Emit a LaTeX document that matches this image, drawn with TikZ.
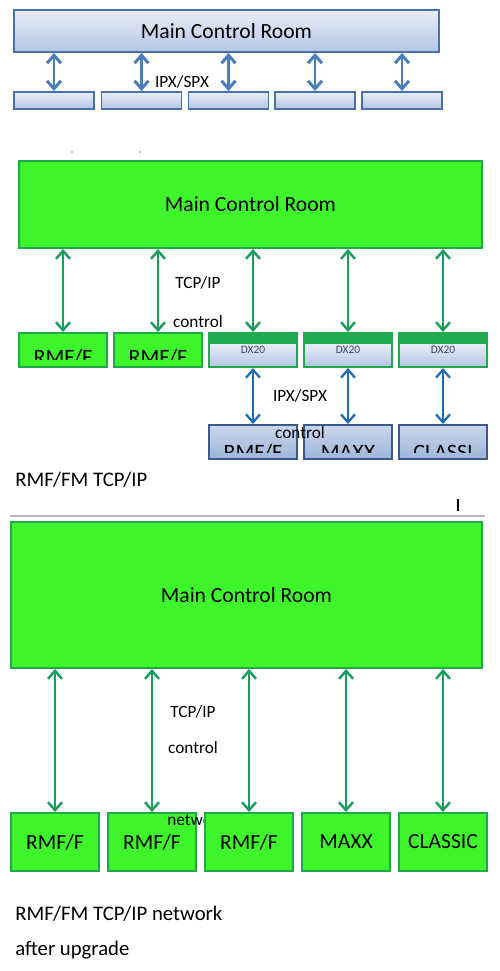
\documentclass[tikz,border=0pt]{standalone}
\usepackage{fontspec}
\setmainfont{Carlito}
\usepackage{tikz}
\usetikzlibrary{arrows.meta,positioning}
\definecolor{oldedge}{HTML}{4A70A8}
\definecolor{oldtop}{HTML}{E8EEF8}
\definecolor{oldbot}{HTML}{B3C6E5}
\definecolor{oldarrow}{HTML}{4A7EBB}
\definecolor{ipxarrow}{HTML}{1F6DBA}
\definecolor{newedge}{HTML}{22A84A}
\definecolor{newfill}{HTML}{3EF52B}
\definecolor{newarrow}{HTML}{1A9E5C}
\definecolor{dxstrip}{HTML}{1FAA52}
\definecolor{dxtext}{HTML}{34466A}
\definecolor{rule}{HTML}{B8B8B8}

\begin{document}
\begin{tikzpicture}[x=0.02cm,y=-0.02cm,
  mcr/.style={draw,line width=1.1pt,inner sep=0pt,font=\fontsize{12.3}{14}\selectfont},
  oldmcr/.style={mcr,draw=oldedge,top color=oldtop,bottom color=oldbot},
  newmcr/.style={mcr,draw=newedge,fill=newfill},
  ipxbox/.style={oldmcr,minimum width=1.6cm,minimum height=0.34cm},
  tcpbox/.style={newmcr,minimum width=1.76cm,minimum height=0.68cm},
  dxbox/.style={tcpbox,top color=white,bottom color=oldbot,text=dxtext,font=\fontsize{6.5}{7}\selectfont,
    path picture={\fill[dxstrip] (path picture bounding box.north west) rectangle ([yshift=-0.22cm]path picture bounding box.north east);}},
  legacy/.style={oldmcr,draw=oldedge!80!black,top color=oldbot!70,bottom color=oldbot!80!oldedge,minimum width=1.76cm,minimum height=0.68cm},
  unit/.style={newmcr,minimum width=1.76cm,minimum height=1.16cm},
  cutlabel/.style n args={3}{path picture={
    \clip (path picture bounding box.north west) rectangle ([yshift=#2]path picture bounding box.south east);
    \node[anchor=base,font=\fontsize{12.5}{14}\selectfont] at ([yshift=#3]path picture bounding box.south) {#1};}},
  note/.style={font=\fontsize{9.8}{11}\selectfont,inner sep=0pt},
  caption/.style={anchor=west,font=\fontsize{11.8}{14}\selectfont,inner sep=0pt},
  oldlink/.style={{Straight Barb[length=1.6mm,width=2.8mm]}-{Straight Barb[length=1.6mm,width=2.8mm]},draw=oldarrow,line width=1.7pt},
  ipxlink/.style={oldlink,draw=ipxarrow,line width=1.3pt},
  tcplink/.style={oldlink,draw=newarrow,line width=1.4pt}]
\useasboundingbox (0,0) rectangle (500,971);

% before: IPX/SPX only
\node[oldmcr,minimum width=8.5cm,minimum height=0.84cm] (mcrA) at (226.5,31) {Main Control Room};
\node[ipxbox] (ipx1) at (54,100.5) {};
\node[ipxbox] (ipx2) at (141.5,100.5) {};
\node[ipxbox] (ipx3) at (228.5,100.5) {};
\node[ipxbox] (ipx4) at (315,100.5) {};
\node[ipxbox] (ipx5) at (402,100.5) {};
\draw[oldlink] (ipx1.north) -- (ipx1.north |- mcrA.south);
\draw[oldlink] (ipx2.north) -- (ipx2.north |- mcrA.south);
\draw[oldlink] (ipx3.north) -- (ipx3.north |- mcrA.south);
\draw[oldlink] (ipx4.north) -- (ipx4.north |- mcrA.south);
\draw[oldlink] (ipx5.north) -- (ipx5.north |- mcrA.south);
\node[note] (ipxA) at (182,82) {IPX/SPX};
\fill (72,152) circle (0.6) (140,152) circle (0.6);

% mixed: TCP/IP plus DX20 bridges
\node[newmcr,minimum width=9.26cm,minimum height=1.74cm] (mcrB) at (250.5,204.5) {Main Control Room};
\node[tcpbox,cutlabel={RMF/F}{0.16cm}{0.06cm}] (rmfB1) at (63,350) {};
\node[tcpbox,cutlabel={RMF/F}{0.16cm}{0.06cm}] (rmfB2) at (158,350) {};
\node[dxbox] (dx1) at (253,350) {DX20};
\node[dxbox] (dx2) at (348,350) {DX20};
\node[dxbox] (dx3) at (443,350) {DX20};
\node[legacy,cutlabel={RMF/F}{0.14cm}{0.0cm}] (oldrmf) at (253,442) {};
\node[legacy,cutlabel={MAXX}{0.14cm}{0.0cm}] (oldmaxx) at (348,442) {};
\node[legacy,cutlabel={CLASSI}{0.14cm}{0.0cm}] (oldclassic) at (443,442) {};
\draw[tcplink] (rmfB1.north) -- (rmfB1.north |- mcrB.south);
\draw[tcplink] (rmfB2.north) -- (rmfB2.north |- mcrB.south);
\draw[tcplink] (dx1.north) -- (dx1.north |- mcrB.south);
\draw[tcplink] (dx2.north) -- (dx2.north |- mcrB.south);
\draw[tcplink] (dx3.north) -- (dx3.north |- mcrB.south);
\draw[ipxlink] (dx1) -- (oldrmf);
\draw[ipxlink] (dx2) -- (oldmaxx);
\draw[ipxlink] (dx3) -- (oldclassic);
\node[note] (tcpB) at (198,283) {TCP/IP};
\node[note] (ctlB) at (198,322) {control};
\node[note] (ipxB) at (300,396) {IPX/SPX};
\node[note] (ctlC) at (300,433) {control};
\node[caption] (capB) at (15,480) {RMF/FM TCP/IP};

% after upgrade
\draw[rule,line width=1pt] (10,516) -- (485,516);
\draw[line width=0.6pt] (458,499) -- (458,511);
\node[newmcr,minimum width=9.42cm,minimum height=2.92cm] (mcrC) at (246.5,595) {Main Control Room};
\node[unit] (rmfC1) at (55,842) {RMF/F};
\node[unit] (rmfC2) at (152,842) {RMF/F};
\node[note,anchor=west] (netC) at (167,820) {network};
\node[unit] (rmfC3) at (249,842) {RMF/F};
\node[unit] (maxxC) at (346,842) {MAXX};
\node[unit] (classicC) at (443,842) {CLASSIC};
\draw[tcplink] (rmfC1.north) -- (rmfC1.north |- mcrC.south);
\draw[tcplink] (rmfC2.north) -- (rmfC2.north |- mcrC.south);
\draw[tcplink] (rmfC3.north) -- (rmfC3.north |- mcrC.south);
\draw[tcplink] (maxxC.north) -- (maxxC.north |- mcrC.south);
\draw[tcplink] (classicC.north) -- (classicC.north |- mcrC.south);
\node[note] (tcpC) at (193,712) {TCP/IP};
\node[note] (ctlD) at (193,748) {control};
\node[caption] (capC) at (15,914) {RMF/FM TCP/IP network};
\node[caption] (capD) at (15,950) {after upgrade};
\end{tikzpicture}
\end{document}
